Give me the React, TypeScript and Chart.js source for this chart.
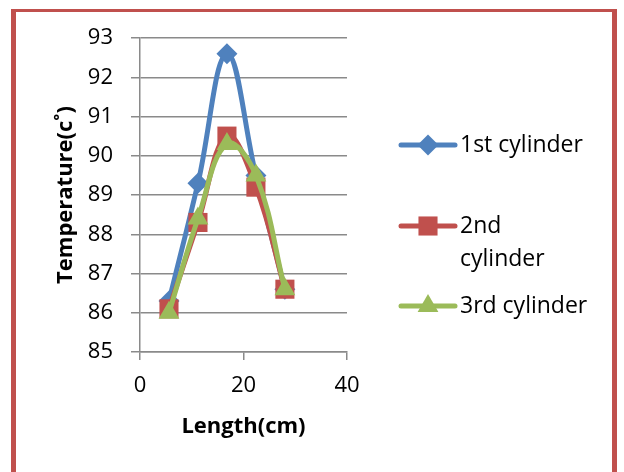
import React, { useEffect, useRef } from "react";
import { Chart, registerables } from "chart.js";

Chart.register(...registerables);

// ---- data ----
const lengths = [5.6, 11.2, 16.8, 22.4, 28];
const cylinder1 = [86.3, 89.3, 92.6, 89.5, 86.6];
const cylinder2 = [86.1, 88.3, 90.5, 89.2, 86.6];
const cylinder3 = [86.0, 88.4, 90.3, 89.5, 86.6];
const seriesNames = ["1st cylinder", "2nd cylinder", "3rd cylinder"];
const legendLabelLines = [["1st cylinder"], ["2nd", "cylinder"], ["3rd cylinder"]];
const seriesColors = ["#4F81BD", "#C0504D", "#9BBB59"];
const seriesMarkers = ["rectRot", "rect", "triangle"];
const seriesRadius = [10.5, 13.5, 12];
const xMin = 0;
const xMax = 40;
const xStep = 20;
const yMin = 85;
const yMax = 93;
const yStep = 1;
const xTitle = "Length(cm)";
const yTitle = "Temperature(c˚)";

const FONT = "'Open Sans', 'Noto Sans', sans-serif";
const GRID = "#8a8a8a";

function drawMarker(ctx: CanvasRenderingContext2D, style: string, x: number, y: number, r: number, color: string) {
  ctx.save();
  ctx.fillStyle = color;
  ctx.beginPath();
  if (style === "rectRot") {
    ctx.moveTo(x, y - r);
    ctx.lineTo(x + r, y);
    ctx.lineTo(x, y + r);
    ctx.lineTo(x - r, y);
  } else if (style === "rect") {
    const s = Math.SQRT1_2 * r;
    ctx.rect(x - s, y - s, 2 * s, 2 * s);
  } else {
    const a = (Math.PI * 2) / 3;
    let rad = -Math.PI / 2;
    ctx.moveTo(x + Math.cos(rad) * r, y + Math.sin(rad) * r);
    rad += a;
    ctx.lineTo(x + Math.cos(rad) * r, y + Math.sin(rad) * r);
    rad += a;
    ctx.lineTo(x + Math.cos(rad) * r, y + Math.sin(rad) * r);
  }
  ctx.closePath();
  ctx.fill();
  ctx.restore();
}

const framePlugin = {
  id: "frame",
  beforeDraw(chart: any) {
    const ctx = chart.ctx as CanvasRenderingContext2D;
    ctx.save();
    ctx.fillStyle = "#ffffff";
    ctx.fillRect(0, 0, chart.width, chart.height);
    ctx.fillStyle = "#C0504D";
    ctx.fillRect(11, 9, 606, 3);
    ctx.fillRect(11, 9, 5, chart.height - 9);
    ctx.fillRect(612, 9, 5, chart.height - 9);
    ctx.restore();
  },
};

const legendPlugin = {
  id: "customLegend",
  afterDraw(chart: any) {
    const ctx = chart.ctx as CanvasRenderingContext2D;
    const rows = [145, 226, 306];
    ctx.save();
    chart.data.datasets.forEach((ds: any, i: number) => {
      const y = rows[i];
      ctx.strokeStyle = ds.borderColor;
      ctx.lineWidth = 5;
      ctx.lineCap = "round";
      ctx.beginPath();
      ctx.moveTo(401, y);
      ctx.lineTo(455, y);
      ctx.stroke();
      drawMarker(ctx, ds.pointStyle, 428, y, ds.pointRadius, ds.backgroundColor);
      ctx.fillStyle = "#000000";
      ctx.font = `23px ${FONT}`;
      ctx.textAlign = "left";
      ctx.textBaseline = "middle";
      legendLabelLines[i].forEach((line, j) => {
        ctx.fillText(line, 460, y + j * 33);
      });
    });
    ctx.restore();
  },
};

export default function App() {
  const ref = useRef<HTMLCanvasElement | null>(null);

  useEffect(() => {
    if (!ref.current) return;
    const series = [cylinder1, cylinder2, cylinder3];
    const chart = new Chart(ref.current, {
      type: "line",
      data: {
        datasets: series.map((vals, i) => ({
          label: seriesNames[i],
          data: vals.map((v, k) => ({ x: lengths[k], y: v })),
          borderColor: seriesColors[i],
          backgroundColor: seriesColors[i],
          pointBackgroundColor: seriesColors[i],
          pointBorderColor: seriesColors[i],
          pointBorderWidth: 0,
          pointStyle: seriesMarkers[i],
          pointRadius: seriesRadius[i],
          borderWidth: 5,
          tension: 0.4,
          fill: false,
          order: 2 - i,
        })),
      },
      options: {
        animation: false,
        responsive: false,
        events: [],
        layout: { padding: { left: 50, right: 277, top: 38, bottom: 0 } },
        plugins: {
          legend: { display: false },
          tooltip: { enabled: false },
        },
        scales: {
          x: {
            type: "linear",
            min: xMin,
            max: xMax,
            afterFit: (s: any) => {
              s.height = 120;
            },
            ticks: {
              stepSize: xStep,
              color: "#000",
              font: { family: FONT, size: 22 },
              padding: 13,
              maxRotation: 0,
            },
            grid: {
              drawOnChartArea: false,
              drawTicks: true,
              tickLength: 8,
              color: GRID,
              lineWidth: 1.5,
            },
            border: { color: GRID, width: 1.5 },
            title: {
              display: true,
              text: xTitle,
              color: "#000",
              font: { family: FONT, size: 22, weight: "bold" },
              padding: { top: 0, bottom: 32 },
            },
          },
          y: {
            type: "linear",
            min: yMin,
            max: yMax,
            afterFit: (s: any) => {
              s.width = 90;
            },
            ticks: {
              stepSize: yStep,
              color: "#000",
              font: { family: FONT, size: 22 },
              padding: 18,
            },
            grid: {
              drawTicks: true,
              tickLength: 9,
              color: GRID,
              lineWidth: 1.5,
            },
            border: { color: GRID, width: 1.5 },
            title: {
              display: true,
              text: yTitle,
              color: "#000",
              font: { family: FONT, size: 22, weight: "bold" },
              padding: { top: 3, bottom: 0 },
            },
          },
        },
      },
      plugins: [framePlugin, legendPlugin],
    } as any);
    return () => chart.destroy();
  }, []);

  return (
    <div style={{ position: "fixed", left: 0, top: 0, width: 624, height: 472, background: "#fff" }}>
      <canvas ref={ref} width={624} height={472} style={{ display: "block", width: 624, height: 472 }} />
    </div>
  );
}
